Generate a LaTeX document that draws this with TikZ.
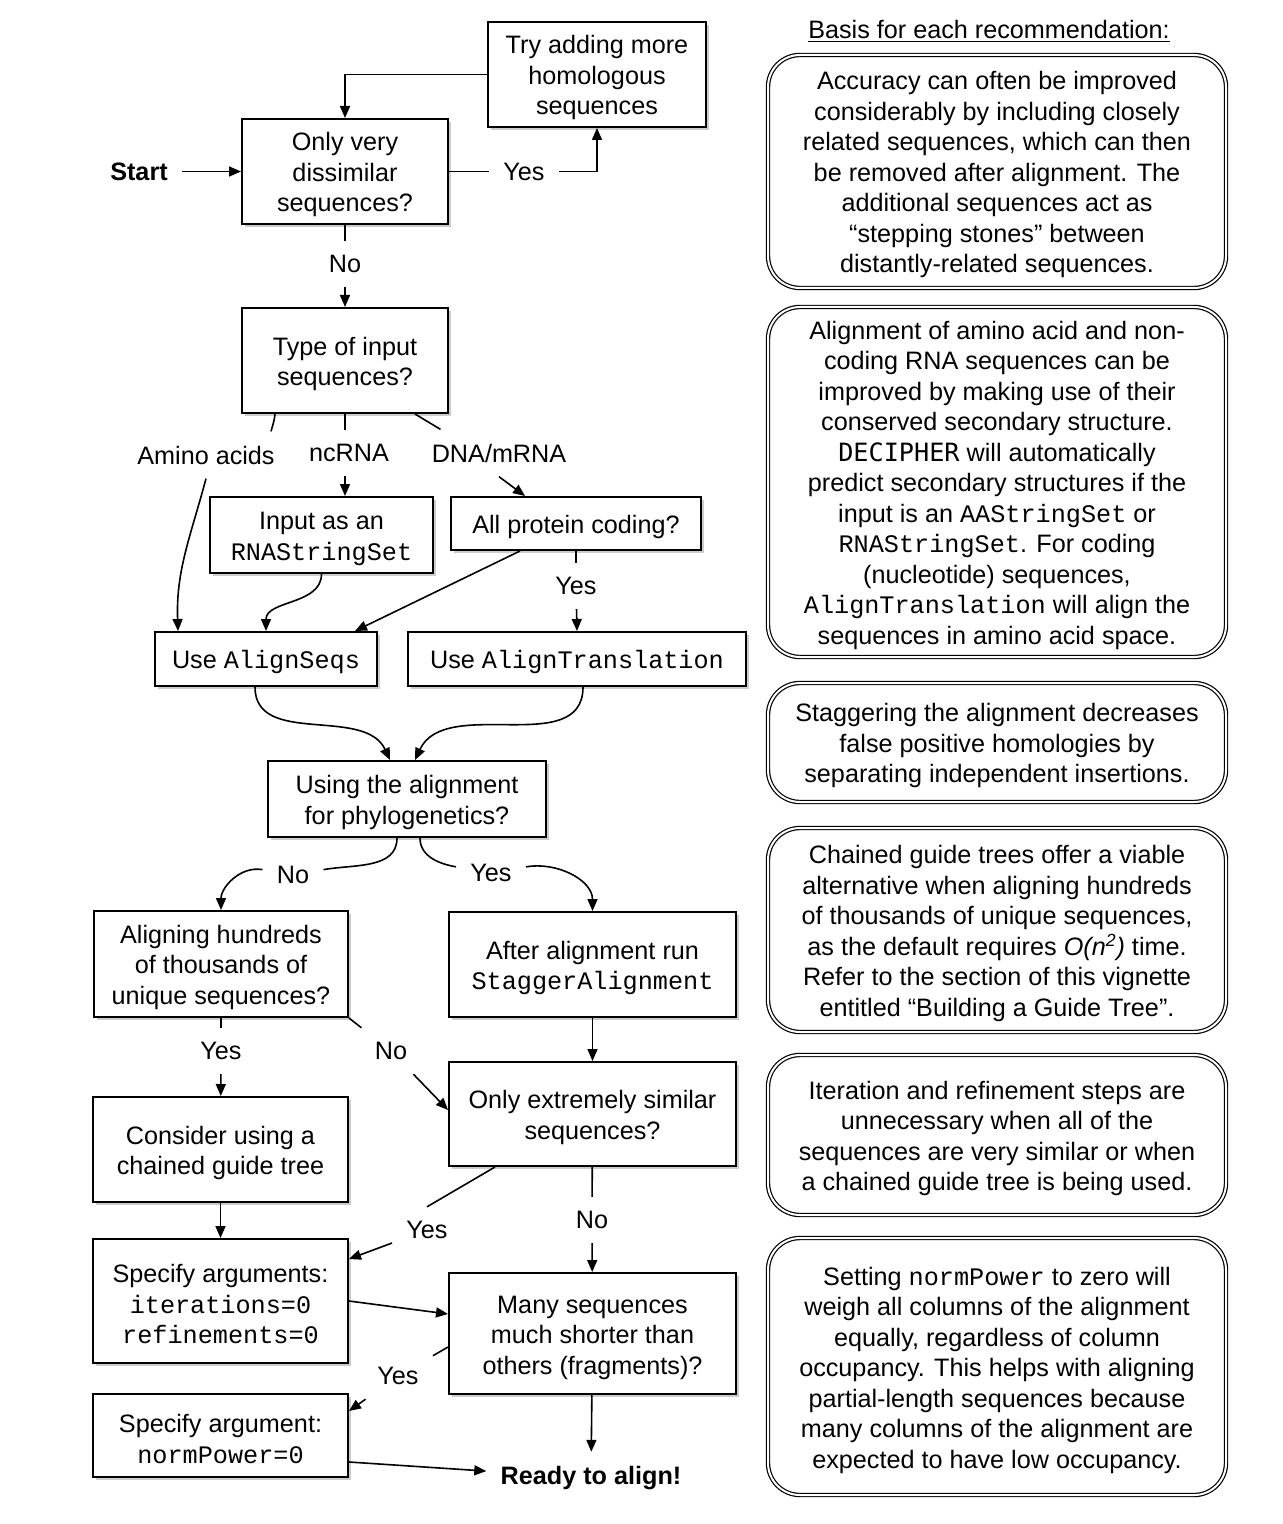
\documentclass[tikz,border=0pt]{standalone}
\usepackage{fontspec}
\setmainfont{Liberation Sans}
\setmonofont{Liberation Mono}
\newfontfamily\decfont{DejaVu Sans Mono}
\usepackage{tikz}
\newcommand*{\fs}{\fontsize{12.6}{15.25}\selectfont}
\newcommand*{\up}{\rule{0pt}{12.6pt}}
\usetikzlibrary{arrows.meta, shadows}
\tikzstyle{box} = [
    draw,
    line width=1pt,
    rectangle,
    fill=white,
    align=center,
    inner sep=2pt,
    drop shadow={shadow xshift=1.3pt, shadow yshift=-1.3pt, opacity=0.4}
]
\tikzstyle{note} = [draw, double, double distance=1pt, line width=0.6pt, rounded corners=16pt, minimum width=229pt, align=center, inner sep=2pt]
\tikzstyle{lbl} = [inner sep=7pt]
\tikzstyle{link} = [line width=0.8pt]
\tikzstyle{flow} = [link, -{Triangle[length=6pt, width=5pt]}]

\begin{document}
\begin{tikzpicture}[x=0.5pt, y=-0.5pt, font=\fs]
    \useasboundingbox (0, 0) rectangle (1282, 1524);

    % Boxes.
    \node (try) [box, minimum width=109pt, minimum height=52.5pt] at (597, 74.5) {\up Try adding more\\homologous\\sequences};
    \node (dissim) [box, minimum width=103pt, minimum height=52.5pt] at (345, 171.5) {\up Only very\\dissimilar\\sequences?};
    \node (type) [box, minimum width=103pt, minimum height=52.5pt] at (345, 360.5) {\up Type of input\\sequences?};
    \node (rnaset) [box, minimum width=111.5pt, minimum height=38pt] at (321.5, 535) {\up Input as an\\\texttt{RNAStringSet}};
    \node (coding) [box, minimum width=125pt, minimum height=26.5pt] at (576, 523.5) {\up All protein coding?};
    \node (seqs) [box, minimum width=111pt, minimum height=27pt] at (266, 659) {\up Use \texttt{AlignSeqs}};
    \node (transl) [box, minimum width=169pt, minimum height=27pt] at (577, 659) {\up Use \texttt{AlignTranslation}};
    \node (phylo) [box, minimum width=139pt, minimum height=38pt] at (407, 799) {\up Using the alignment\\for phylogenetics?};
    \node (hundreds) [box, minimum width=127pt, minimum height=53pt] at (221, 964) {\up Aligning hundreds\\of thousands of\\unique sequences?};
    \node (stagger) [box, minimum width=143.5pt, minimum height=52.5pt] at (592.5, 964.5) {\up After alignment run\\\texttt{StaggerAlignment}};
    \node (similar) [box, minimum width=143.5pt, minimum height=52pt] at (592.5, 1114) {\up Only extremely similar\\sequences?};
    \node (chained) [box, minimum width=127.5pt, minimum height=52.5pt] at (220.5, 1149.5) {\up Consider using a\\chained guide tree};
    \node (iter) [box, minimum width=127.5pt, minimum height=62pt] at (220.5, 1301) {\up Specify arguments:\\\texttt{iterations=0}\\\texttt{refinements=0}};
    \node (fragments) [box, minimum width=143.5pt, minimum height=60.5pt] at (592.5, 1333.5) {\up Many sequences\\much shorter than\\others (fragments)?};
    \node (norm) [box, minimum width=127.5pt, minimum height=41.5pt] at (220.5, 1435.5) {\up Specify argument:\\\texttt{normPower=0}};

    % Labels.
    \node (start) [lbl, font=\fs\bfseries] at (139, 171.5) {Start};
    \node (ready) [lbl, font=\fs\bfseries] at (591, 1478) {Ready to align!};
    \node (yes1) [lbl] at (524, 171.5) {Yes};
    \node (no1) [lbl] at (345, 264) {No};
    \node (amino) [lbl] at (206, 455) {Amino acids};
    \node (ncrna) [lbl] at (349, 453) {ncRNA};
    \node (dna) [lbl] at (499, 453) {DNA/mRNA};
    \node (yes2) [lbl] at (576, 586) {Yes};
    \node (no2) [lbl] at (293, 875) {No};
    \node (yes3) [lbl] at (491, 873) {Yes};
    \node (yes4) [lbl] at (221, 1051) {Yes};
    \node (no3) [lbl] at (391, 1051) {No};
    \node (yes5) [lbl] at (427, 1230) {Yes};
    \node (no4) [lbl] at (592, 1220) {No};
    \node (yes6) [lbl] at (398, 1376) {Yes};

    % Notes.
    \node (title) at (989, 31) {\underline{Basis for each recommendation:}};
    \node (basis1) [note, minimum height=116.5pt] at (997, 171.5) {\up Accuracy can often be improved\\considerably by including closely\\related sequences, which can then\\be removed after alignment. The\\additional sequences act as\\“stepping stones” between\\distantly-related sequences.};
    \node (basis2) [note, minimum height=175pt] at (997, 482) {\up Alignment of amino acid and non-\\coding RNA sequences can be\\improved by making use of their\\conserved secondary structure.\\{\decfont DECIPHER} will automatically\\predict secondary structures if the\\input is an \texttt{AAStringSet} or\\\texttt{RNAStringSet}. For coding\\(nucleotide) sequences,\\\texttt{AlignTranslation} will align the\\sequences in amino acid space.};
    \node (basis3) [note, minimum height=59.5pt] at (997, 742.5) {\up Staggering the alignment decreases\\false positive homologies by\\separating independent insertions.};
    \node (basis4) [note, minimum height=102pt] at (997, 930) {\up Chained guide trees offer a viable\\alternative when aligning hundreds\\of thousands of unique sequences,\\as the default requires \textit{O(n\textsuperscript{2})} time.\\Refer to the section of this vignette\\entitled “Building a Guide Tree”.};
    \node (basis5) [note, minimum height=80pt] at (997, 1135) {\up Iteration and refinement steps are\\unnecessary when all of the\\sequences are very similar or when\\a chained guide tree is being used.};
    \node (basis6) [note, minimum height=128.5pt] at (997, 1366.5) {\up Setting \texttt{normPower} to zero will\\weigh all columns of the alignment\\equally, regardless of column\\occupancy. This helps with aligning\\partial-length sequences because\\many columns of the alignment are\\expected to have low occupancy.};

    % Paths.
    \draw [flow] (start) -- (dissim);
    \draw [link] (dissim) -- (yes1);
    \draw [flow] (yes1) -| (try);
    \draw [flow] (try.west) -| (dissim.north);
    \draw [link] (dissim) -- (no1);
    \draw [flow] (no1) -- (type);

    % Input types.
    \draw [link] ([xshift=-35pt]type.south) to [out=-95, in=75] (amino.20);
    \draw [flow] (amino.south) to [out=-105, in=92] ([xshift=-44pt]seqs.north);
    \draw [link] (type.south) -- (type.south |- ncrna.north);
    \draw [flow] (type.south |- ncrna.south) -- (type.south |- rnaset.north);
    \draw [link] ([xshift=35pt]type.south) -- (dna.158);
    \draw [flow] (dna.south) -- ([xshift=-25.5pt]coding.north);

    \draw [flow] (rnaset.south) to [out=-90, in=90] (seqs.north);
    \draw [flow] ([xshift=-28pt]coding.south) -- ([xshift=44.5pt]seqs.north);
    \draw [link] (coding.south) -- (yes2);
    \draw [flow] (yes2) -- (transl.north);

    \draw [flow] ([xshift=-5.5pt]seqs.south) to [out=-90, in=115] ([xshift=-8.5pt]phylo.north);
    \draw [flow] ([xshift=3pt]transl.south) to [out=-90, in=65] ([xshift=4pt]phylo.north);

    % Phylogenetics branch.
    \draw [link] ([xshift=-5pt]phylo.south) to [out=-90, in=10] (no2);
    \draw [flow] (no2) to [out=170, in=90] (hundreds.north);
    \draw [link] ([xshift=6.5pt]phylo.south) to [out=-90, in=170] (yes3);
    \draw [flow] (yes3) to [out=10, in=90] (stagger.north);

    \draw [link] (hundreds) -- (yes4);
    \draw [flow] (yes4) -- (chained);
    \draw [link] (hundreds.south east) -- (no3);
    \draw [flow] (no3) -- ([yshift=2pt]similar.west);
    \draw [flow] (stagger) -- (similar);
    \draw [flow] (chained) -- (iter);

    % Refinement and fragments.
    \draw [link] ([xshift=-48.75pt]similar.south) -- (yes5.north);
    \draw [flow] (yes5) -- ([yshift=-10.5pt]iter.north east);
    \draw [link] (similar) -- (no4);
    \draw [flow] (no4) -- (fragments);
    \draw [flow] (iter.east) -- ([yshift=9.75pt]fragments.west);
    \draw [link] ([yshift=-6.75pt]fragments.west) -- (yes6);
    \draw [flow] (yes6) -- ([yshift=-9pt]norm.north east);
    \draw [flow] ([yshift=-13.25pt]norm.east) -- (ready);
    \draw [flow] (fragments) -- (ready);
\end{tikzpicture}
\end{document}
